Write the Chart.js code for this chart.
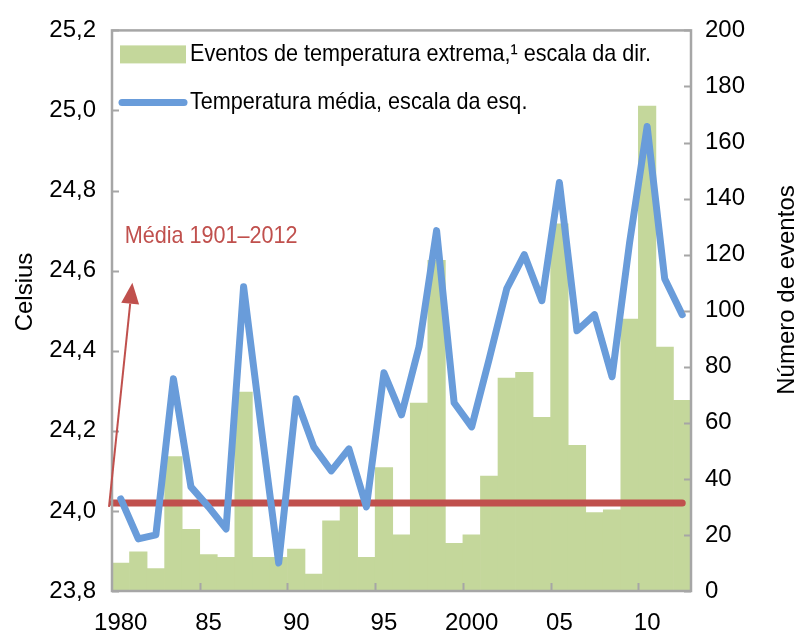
<!DOCTYPE html>
<html lang="pt">
<head>
<meta charset="utf-8">
<title>Eventos de temperatura extrema e temperatura média</title>
<script src="https://cdn.jsdelivr.net/npm/chart.js@4.4.1/dist/chart.umd.min.js"></script>
<style>
  html, body { margin: 0; padding: 0; background: #fff; }
  #wrap { width: 800px; height: 638px; }
</style>
</head>
<body>
<div id="wrap"><canvas id="tempChart" width="800" height="638"></canvas></div>
<script>
// Data
const years = [1980, 1981, 1982, 1983, 1984, 1985, 1986, 1987, 1988, 1989,
  1990, 1991, 1992, 1993, 1994, 1995, 1996, 1997, 1998, 1999,
  2000, 2001, 2002, 2003, 2004, 2005, 2006, 2007, 2008, 2009,
  2010, 2011, 2012];
const extremeEvents = [10, 14, 8, 48, 22, 13, 12, 71, 12, 12,
  15, 6, 25, 31, 12, 44, 20, 67, 118, 17,
  20, 41, 76, 78, 62, 131, 52, 28, 29, 97,
  173, 87, 68];
const meanTemp = [24.03, 23.93, 23.94, 24.33, 24.06, 24.01, 23.955, 24.56, 24.21, 23.87,
  24.28, 24.16, 24.10, 24.155, 24.01, 24.345, 24.24, 24.41, 24.70, 24.27,
  24.21, 24.38, 24.555, 24.64, 24.525, 24.82, 24.45, 24.49, 24.335, 24.67,
  24.96, 24.58, 24.49];
const longRunMean = 24.02;
const celsiusTicks = [23.8, 24.0, 24.2, 24.4, 24.6, 24.8, 25.0, 25.2];
const eventTicks = [0, 20, 40, 60, 80, 100, 120, 140, 160, 180, 200];
const labeledYears = [1980, 1985, 1990, 1995, 2000, 2005, 2010];
const yearTickLabels = ['1980', '85', '90', '95', '2000', '05', '10'];

const FONT = '"Liberation Sans Narrow", "Arial Narrow", "Liberation Sans", Arial, sans-serif';
const GREEN = '#C4D79B';
const BLUE = '#699CDA';
const RED = '#C0504D';
const GREY = '#A6A6A6';
const NARROW = 0.9; // no narrow face installed, squeeze drawn text a bit

// annotation placement (category index, Celsius)
const arrowTail = [-0.67, 24.01];
const arrowTip = [0.66, 24.57];
const noteAt = [0.22, 24.685];

Chart.defaults.font.family = FONT;
Chart.defaults.color = '#000';

function narrowText(ctx, text, x, y, align, squeeze) {
  ctx.save();
  ctx.translate(x, y);
  ctx.scale(squeeze || NARROW, 1);
  ctx.textAlign = align || 'left';
  ctx.fillText(text, 0, 0);
  ctx.restore();
}

const decorations = {
  id: 'decorations',
  afterDatasetDraw(chart, args) {
    if (args.meta.type !== 'bar') return;
    const { ctx, chartArea, scales: { x, y } } = chart;
    const yMean = y.getPixelForValue(longRunMean);
    ctx.save();
    ctx.strokeStyle = RED;
    ctx.lineWidth = 7;
    ctx.lineCap = 'round';
    ctx.beginPath();
    ctx.moveTo(chartArea.left + 1, yMean);
    ctx.lineTo(x.getPixelForValue(years.length - 1), yMean);
    ctx.stroke();
    ctx.restore();
  },
  afterDatasetsDraw(chart) {
    const { ctx, chartArea: a, scales: { x, y, y1 } } = chart;
    ctx.save();

    // frame
    ctx.strokeStyle = GREY;
    ctx.lineWidth = 2.5;
    ctx.strokeRect(a.left, a.top, a.right - a.left, a.bottom - a.top);

    // inward tick marks
    ctx.lineWidth = 2;
    ctx.beginPath();
    celsiusTicks.forEach(v => {
      const py = Math.round(y.getPixelForValue(v)) + 0.5;
      ctx.moveTo(a.left, py); ctx.lineTo(a.left + 7, py);
    });
    eventTicks.forEach(v => {
      const py = Math.round(y1.getPixelForValue(v)) + 0.5;
      ctx.moveTo(a.right, py); ctx.lineTo(a.right - 7, py);
    });
    for (let i = 5; i < years.length; i += 5) {
      const px = Math.round(x.getPixelForValue(i - 0.5)) + 0.5;
      ctx.moveTo(px, a.bottom); ctx.lineTo(px, a.bottom - 8);
    }
    ctx.stroke();

    // arrow to the long-run mean
    const tx = x.getPixelForValue(arrowTail[0]), ty = y.getPixelForValue(arrowTail[1]);
    const hx = x.getPixelForValue(arrowTip[0]), hy = y.getPixelForValue(arrowTip[1]);
    const ang = Math.atan2(hy - ty, hx - tx);
    const headLen = 21, headHalf = 9;
    const bx = hx - headLen * Math.cos(ang), by = hy - headLen * Math.sin(ang);
    ctx.strokeStyle = RED;
    ctx.fillStyle = RED;
    ctx.lineWidth = 2;
    ctx.beginPath();
    ctx.moveTo(tx, ty); ctx.lineTo(bx, by);
    ctx.stroke();
    ctx.beginPath();
    ctx.moveTo(hx, hy);
    ctx.lineTo(bx + headHalf * Math.sin(ang), by - headHalf * Math.cos(ang));
    ctx.lineTo(bx - headHalf * Math.sin(ang), by + headHalf * Math.cos(ang));
    ctx.closePath();
    ctx.fill();

    ctx.font = '24px ' + FONT;
    ctx.textBaseline = 'middle';
    narrowText(ctx, 'Média 1901–2012', x.getPixelForValue(noteAt[0]), y.getPixelForValue(noteAt[1]));

    // legend inside the plot
    const ds = chart.data.datasets;
    const lx = a.left + 8, sw = 66;
    const row1 = a.top + 24, row2 = a.top + 72;
    ctx.fillStyle = ds[1].backgroundColor;
    ctx.fillRect(lx, row1 - 9, sw, 18);
    ctx.strokeStyle = ds[0].borderColor;
    ctx.lineWidth = 7;
    ctx.lineCap = 'round';
    ctx.beginPath();
    ctx.moveTo(lx + 2, row2); ctx.lineTo(lx + sw - 2, row2);
    ctx.stroke();
    ctx.fillStyle = '#000';
    narrowText(ctx, ds[1].label, lx + sw + 4, row1);
    narrowText(ctx, ds[0].label, lx + sw + 4, row2);

    // axis titles
    ctx.save();
    ctx.translate(25, 292);
    ctx.rotate(-Math.PI / 2);
    narrowText(ctx, 'Celsius', 0, 0, 'center', 1);
    ctx.restore();
    ctx.save();
    ctx.translate(787, 290);
    ctx.rotate(-Math.PI / 2);
    narrowText(ctx, 'Número de eventos', 0, 0, 'center', 1);
    ctx.restore();

    ctx.restore();
  }
};

new Chart(document.getElementById('tempChart'), {
  type: 'bar',
  data: {
    labels: years,
    datasets: [
      {
        type: 'line',
        label: 'Temperatura média, escala da esq.',
        data: meanTemp,
        yAxisID: 'y',
        borderColor: BLUE,
        borderWidth: 7,
        borderJoinStyle: 'round',
        borderCapStyle: 'round',
        pointRadius: 0,
        tension: 0,
        order: 1
      },
      {
        type: 'bar',
        label: 'Eventos de temperatura extrema,¹ escala da dir.',
        data: extremeEvents,
        yAxisID: 'y1',
        backgroundColor: GREEN,
        borderWidth: 0,
        barPercentage: 1,
        categoryPercentage: 1,
        order: 2
      }
    ]
  },
  options: {
    responsive: false,
    animation: false,
    layout: { padding: { top: 25, left: 0, right: 0, bottom: 0 } },
    plugins: {
      legend: { display: false },
      tooltip: { enabled: false }
    },
    scales: {
      x: {
        offset: true,
        grid: { display: false, drawTicks: false },
        border: { display: false },
        ticks: {
          autoSkip: false,
          maxRotation: 0,
          padding: 18,
          font: { size: 24 },
          callback: (v, i) => {
            const k = labeledYears.indexOf(years[i]);
            return k >= 0 ? yearTickLabels[k] : '';
          }
        },
        afterFit: s => { s.height = 47; }
      },
      y: {
        position: 'left',
        min: 23.8,
        max: 25.2,
        afterBuildTicks: s => { s.ticks = celsiusTicks.map(v => ({ value: v })); },
        grid: { display: false, drawTicks: false },
        border: { display: false },
        ticks: {
          padding: 16,
          font: { size: 24 },
          callback: v => v.toFixed(1).replace('.', ',')
        },
        afterFit: s => { s.width = 112; }
      },
      y1: {
        position: 'right',
        min: 0,
        max: 200,
        afterBuildTicks: s => { s.ticks = eventTicks.map(v => ({ value: v })); },
        grid: { display: false, drawTicks: false },
        border: { display: false },
        ticks: {
          padding: 14,
          font: { size: 24 }
        },
        afterFit: s => { s.width = 109; }
      }
    }
  },
  plugins: [decorations]
});
</script>
</body>
</html>
